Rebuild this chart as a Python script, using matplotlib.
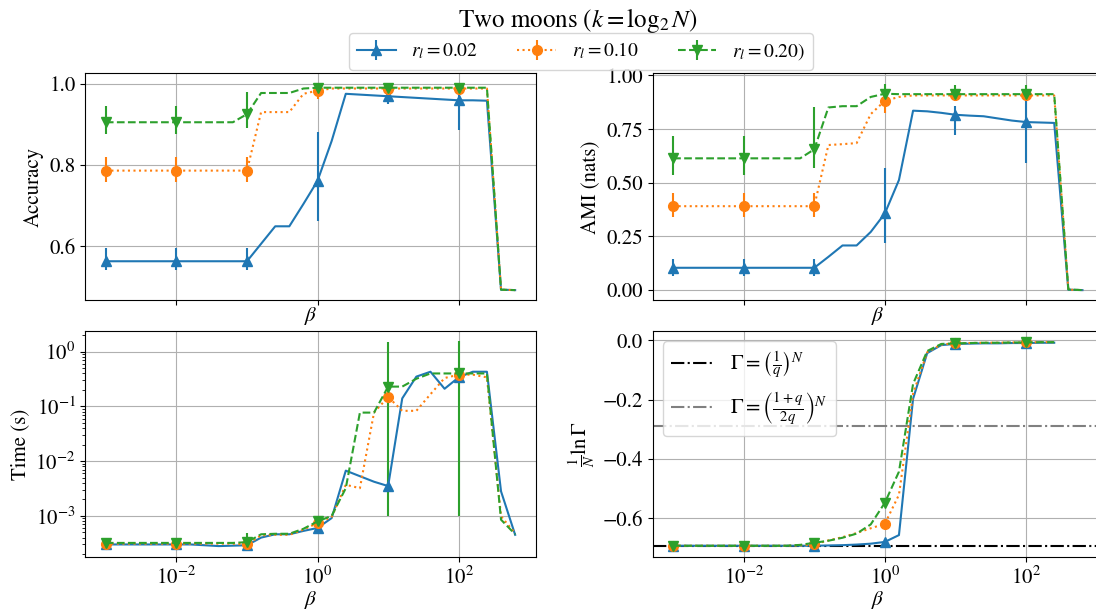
import matplotlib
matplotlib.use('Agg')
import matplotlib.pyplot as plt
import numpy as np
from matplotlib.ticker import NullLocator

plt.rcParams['font.family'] = ['STIXGeneral', 'DejaVu Serif']
plt.rcParams['mathtext.fontset'] = 'stix'
plt.rcParams['font.size'] = 15

# beta grid (log10), markers every 5th point
log_beta = [-3.0, -2.8, -2.6, -2.4, -2.2, -2.0, -1.8, -1.6, -1.4, -1.2,
            -1.0, -0.8, -0.6, -0.4, -0.2, 0.0, 0.2, 0.4, 0.6, 0.8,
            1.0, 1.2, 1.4, 1.6, 1.8, 2.0, 2.2, 2.4, 2.6, 2.8]

labels = [r'$r_l = 0.02$', r'$r_l = 0.10$', r'$r_l = 0.20)$']
colors = ['C0', 'C1', 'C2']
markers = ['^', 'o', 'v']
styles = ['-', ':', '--']

# accuracy
acc_002 = [0.563, 0.563, 0.563, 0.563, 0.563, 0.563, 0.563, 0.563, 0.563, 0.563,
           0.563, 0.606, 0.649, 0.649, 0.704, 0.761, 0.859, 0.975, 0.973, 0.971,
           0.969, 0.967, 0.965, 0.963, 0.961, 0.959, 0.959, 0.958, 0.493, 0.492]
acc_010 = [0.786, 0.786, 0.786, 0.786, 0.786, 0.786, 0.786, 0.786, 0.786, 0.786,
           0.786, 0.930, 0.930, 0.930, 0.975, 0.983, 0.988, 0.988, 0.988, 0.988,
           0.988, 0.988, 0.988, 0.988, 0.988, 0.988, 0.988, 0.988, 0.493, 0.492]
acc_020 = [0.905, 0.905, 0.905, 0.905, 0.905, 0.905, 0.905, 0.905, 0.905, 0.905,
           0.925, 0.977, 0.977, 0.977, 0.988, 0.990, 0.990, 0.990, 0.990, 0.990,
           0.990, 0.990, 0.990, 0.990, 0.990, 0.990, 0.990, 0.990, 0.493, 0.492]
acc_lo = [[0.021, 0.021, 0.021, 0.098, 0.020, 0.072],
          [0.029, 0.029, 0.029, 0.020, 0.008, 0.008],
          [0.030, 0.030, 0.035, 0.010, 0.010, 0.010]]
acc_hi = [[0.032, 0.032, 0.032, 0.120, 0.010, 0.015],
          [0.034, 0.034, 0.034, 0.010, 0.008, 0.008],
          [0.040, 0.040, 0.054, 0.010, 0.010, 0.010]]

# AMI
ami_002 = [0.104, 0.104, 0.104, 0.104, 0.104, 0.104, 0.104, 0.104, 0.104, 0.104,
           0.104, 0.155, 0.208, 0.208, 0.271, 0.357, 0.513, 0.836, 0.833, 0.826,
           0.817, 0.813, 0.810, 0.800, 0.790, 0.783, 0.781, 0.779, 0.002, 0.000]
ami_010 = [0.391, 0.391, 0.391, 0.391, 0.391, 0.391, 0.391, 0.391, 0.391, 0.391,
           0.391, 0.676, 0.680, 0.685, 0.820, 0.882, 0.900, 0.907, 0.907, 0.907,
           0.907, 0.907, 0.907, 0.907, 0.907, 0.907, 0.907, 0.907, 0.002, 0.000]
ami_020 = [0.614, 0.614, 0.614, 0.614, 0.614, 0.614, 0.614, 0.614, 0.614, 0.614,
           0.656, 0.851, 0.857, 0.857, 0.900, 0.915, 0.913, 0.913, 0.913, 0.913,
           0.913, 0.913, 0.913, 0.913, 0.913, 0.913, 0.913, 0.913, 0.003, 0.000]
ami_lo = [[0.036, 0.036, 0.036, 0.138, 0.094, 0.189],
          [0.050, 0.050, 0.050, 0.057, 0.020, 0.020],
          [0.078, 0.078, 0.089, 0.043, 0.030, 0.030]]
ami_hi = [[0.040, 0.040, 0.040, 0.210, 0.040, 0.096],
          [0.062, 0.062, 0.062, 0.050, 0.020, 0.020],
          [0.105, 0.105, 0.197, 0.047, 0.045, 0.045]]

# run time (s)
t_002 = [3.0e-4, 3.0e-4, 3.0e-4, 3.0e-4, 3.0e-4, 3.0e-4, 3.0e-4, 2.9e-4, 2.8e-4, 2.85e-4,
         2.9e-4, 4.0e-4, 4.6e-4, 4.6e-4, 5.3e-4, 6.0e-4, 9.1e-4, 6.7e-3, 5.3e-3, 4.2e-3,
         3.5e-3, 0.14, 0.35, 0.43, 0.21, 0.34, 0.43, 0.43, 2.8e-3, 4.5e-4]
t_010 = [3.1e-4, 3.1e-4, 3.1e-4, 3.1e-4, 3.1e-4, 3.1e-4, 3.1e-4, 3.1e-4, 3.1e-4, 3.1e-4,
         3.0e-4, 4.4e-4, 4.5e-4, 4.5e-4, 5.6e-4, 7.4e-4, 9.5e-4, 3.7e-3, 3.2e-3, 0.077,
         0.149, 0.083, 0.083, 0.167, 0.33, 0.38, 0.38, 0.34, 9.8e-4, 4.8e-4]
t_020 = [3.2e-4, 3.2e-4, 3.2e-4, 3.2e-4, 3.2e-4, 3.2e-4, 3.2e-4, 3.2e-4, 3.2e-4, 3.2e-4,
         3.3e-4, 4.6e-4, 4.7e-4, 4.7e-4, 5.8e-4, 7.9e-4, 1.0e-3, 3.2e-3, 0.077, 0.077,
         0.23, 0.23, 0.32, 0.40, 0.40, 0.40, 0.40, 0.40, 8.5e-4, 4.6e-4]
t_lo = [[2e-5, 2e-5, 2e-5, 3e-5, 3e-4, 0.05],
        [2e-5, 2e-5, 2e-5, 5e-5, 0.02, 0.05],
        [2e-5, 2e-5, 3e-5, 5e-5, 0.229, 0.399]]
t_hi = [[2e-5, 2e-5, 2e-5, 3e-5, 3e-4, 0.05],
        [2e-5, 2e-5, 2e-5, 5e-5, 0.02, 0.05],
        [2e-5, 2e-5, 1.6e-4, 5e-5, 1.27, 1.15]]

# (1/N) ln Gamma, only up to beta = 10^2.4
g_002 = [-0.693, -0.693, -0.693, -0.693, -0.693, -0.693, -0.693, -0.693, -0.693, -0.693,
         -0.693, -0.692, -0.691, -0.689, -0.686, -0.680, -0.657, -0.197, -0.043, -0.016,
         -0.012, -0.011, -0.010, -0.010, -0.009, -0.009, -0.008, -0.008]
g_010 = [-0.693, -0.693, -0.693, -0.693, -0.693, -0.693, -0.693, -0.693, -0.693, -0.692,
         -0.688, -0.675, -0.664, -0.650, -0.634, -0.619, -0.521, -0.180, -0.040, -0.014,
         -0.010, -0.009, -0.008, -0.008, -0.007, -0.007, -0.006, -0.006]
g_020 = [-0.693, -0.693, -0.693, -0.693, -0.693, -0.693, -0.693, -0.693, -0.693, -0.690,
         -0.683, -0.676, -0.666, -0.652, -0.621, -0.548, -0.443, -0.147, -0.036, -0.012,
         -0.010, -0.009, -0.008, -0.008, -0.007, -0.007, -0.006, -0.006]
g_err = [0.004, 0.004, 0.004, 0.004, 0.005, 0.004]

q = 2
gamma_uniform = np.log(1 / q)
gamma_pair = np.log((1 + q) / (2 * q))

beta = 10.0 ** np.array(log_beta)


def full_err(lo, hi, n):
    e = np.zeros((2, n))
    e[0, ::5] = lo
    e[1, ::5] = hi
    return e


fig, axes = plt.subplots(2, 2, sharex=True, figsize=(10.96, 6.11), dpi=100)
ax_acc, ax_ami = axes[0]
ax_t, ax_g = axes[1]

panels = [
    (ax_acc, [acc_002, acc_010, acc_020], acc_lo, acc_hi),
    (ax_ami, [ami_002, ami_010, ami_020], ami_lo, ami_hi),
    (ax_t, [t_002, t_010, t_020], t_lo, t_hi),
    (ax_g, [g_002, g_010, g_020], [g_err] * 3, [g_err] * 3),
]

for ax, series, lo, hi in panels:
    for k in range(3):
        y = np.array(series[k])
        n = len(y)
        ax.errorbar(beta[:n], y, yerr=full_err(lo[k], hi[k], n),
                    color=colors[k], marker=markers[k], linestyle=styles[k],
                    markersize=7, lw=1.5, markevery=5, errorevery=5,
                    label=labels[k])
    ax.set_xscale('log')
    ax.grid(True)
    ax.set_xlabel(r'$\beta$', labelpad=0)

ax_t.set_yscale('log')

h1 = ax_g.axhline(gamma_uniform, color='black', linestyle='-.', lw=1.5)
h2 = ax_g.axhline(gamma_pair, color='gray', linestyle='-.', lw=1.5)
ax_g.legend([h1, h2], [r'$\Gamma = \left(\frac{1}{q}\right)^N$',
                       r'$\Gamma = \left(\frac{1+q}{2q}\right)^N$'],
            loc='upper left')

ax_acc.set_ylabel('Accuracy')
ax_ami.set_ylabel('AMI (nats)')
ax_t.set_ylabel('Time (s)')
ax_g.set_ylabel(r'$\frac{1}{N}\ln\Gamma$')

ax_t.set_xticks([1e-2, 1e0, 1e2])
for ax in axes.flat:
    ax.xaxis.set_minor_locator(NullLocator())

# panel placement (right column runs slightly past the figure edge)
ax_acc.set_position([0.0779, 0.5083, 0.4108, 0.3717])
ax_ami.set_position([0.5955, 0.5083, 0.4108, 0.3717])
ax_t.set_position([0.0779, 0.0880, 0.4108, 0.3703])
ax_g.set_position([0.5955, 0.0880, 0.4108, 0.3703])

fig.suptitle(r'Two moons ($k = \log_2 N$)', x=0.527, y=0.967, va='center', fontsize=18)
h, l = ax_acc.get_legend_handles_labels()
fig.legend(h, l, ncol=3, loc='upper center', bbox_to_anchor=(0.53, 0.946),
           borderaxespad=0, fontsize=14)

plt.savefig('out.png', dpi=100)
